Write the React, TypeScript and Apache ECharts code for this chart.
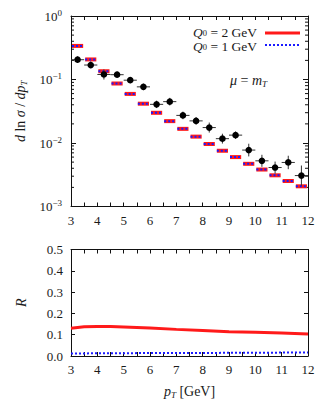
import React, { useEffect, useRef } from "react";
import * as echarts from "echarts";

// bins in p_T [GeV]
const binLo = [3, 3.5, 4, 4.5, 5, 5.5, 6, 6.5, 7, 7.5, 8, 8.5, 9, 9.5, 10, 10.5, 11, 11.5];
const binHi = [3.5, 4, 4.5, 5, 5.5, 6, 6.5, 7, 7.5, 8, 8.5, 9, 9.5, 10, 10.5, 11, 11.5, 12];
const binCenter = [3.25, 3.75, 4.25, 4.75, 5.25, 5.75, 6.25, 6.75, 7.25, 7.75, 8.25, 8.75, 9.25, 9.75, 10.25, 10.75, 11.25, 11.75];

// theory d ln sigma / dpT
const theoryQ2 = [0.338, 0.207, 0.135, 0.0865, 0.0593, 0.0416, 0.0299, 0.0221, 0.0167, 0.0126, 0.00964, 0.00755, 0.0060, 0.0047, 0.00382, 0.0031, 0.00252, 0.00208];
const theoryQ1 = [0.338, 0.207, 0.135, 0.0865, 0.0593, 0.0416, 0.0299, 0.0221, 0.0167, 0.0126, 0.00964, 0.00755, 0.0060, 0.0047, 0.00382, 0.0031, 0.00252, 0.00208];

// measured points
const dataY = [0.205, 0.169, 0.120, 0.119, 0.0975, 0.0766, 0.0406, 0.0448, 0.0272, 0.0223, 0.0175, 0.0117, 0.0133, 0.00774, 0.00524, 0.00411, 0.00494, 0.00307];
const dataLow = [0.182, 0.149, 0.100, 0.107, 0.0874, 0.068, 0.0355, 0.039, 0.0237, 0.0194, 0.0146, 0.0098, 0.0116, 0.00615, 0.00421, 0.0033, 0.00387, 0.00213];
const dataHigh = [0.231, 0.192, 0.144, 0.133, 0.109, 0.086, 0.0464, 0.0514, 0.0312, 0.0256, 0.021, 0.014, 0.0152, 0.00974, 0.00652, 0.0051, 0.0063, 0.00442];

// ratio panel
const ratioX = [3, 3.5, 4, 4.5, 5, 6, 7, 8, 9, 10, 11, 12];
const ratioQ2 = [0.130, 0.137, 0.138, 0.138, 0.136, 0.131, 0.125, 0.120, 0.114, 0.111, 0.108, 0.103];
const ratioQ1 = [0.012, 0.012, 0.013, 0.013, 0.013, 0.014, 0.014, 0.014, 0.015, 0.015, 0.016, 0.016];

// axis ranges
const xMin = 3;
const xMax = 12;
const logMin = 0.001;
const logMax = 1;

const FONT = "Liberation Serif";
const TXT = "#1a1a1a";

const minorLogTicks: number[] = [];
for (let e = -3; e < 0; e++) {
  for (let m = 2; m <= 9; m++) minorLogTicks.push(m * Math.pow(10, e));
}

const richBase = {
  i: { fontStyle: "italic", fontFamily: FONT, fontSize: 14, lineHeight: 16, color: TXT },
  n: { fontFamily: FONT, fontSize: 14, lineHeight: 16, color: TXT },
  sub: { fontStyle: "italic", fontFamily: FONT, fontSize: 9, lineHeight: 9, verticalAlign: "bottom", color: TXT },
  sub0: { fontFamily: FONT, fontSize: 9, lineHeight: 9, verticalAlign: "bottom", color: TXT },
};

const richLegend = {
  i: { fontStyle: "italic", fontFamily: FONT, fontSize: 13.5, lineHeight: 11, color: TXT },
  n: { fontFamily: FONT, fontSize: 13.5, lineHeight: 11, color: TXT },
  sub0: { fontFamily: FONT, fontSize: 8.5, lineHeight: 7, verticalAlign: "bottom", color: TXT },
};

export default function App() {
  const ref = useRef<HTMLDivElement>(null);
  useEffect(() => {
    if (!ref.current) return;
    const chart = echarts.init(ref.current, null, { renderer: "svg" });

    const axisLineStyle = { color: "#111", width: 1 };
    const xBase = (gridIndex: number, position: string, showLabel: boolean, name?: string) => ({
      type: "value",
      gridIndex,
      position,
      min: xMin,
      max: xMax,
      interval: 0.5,
      name: name || "",
      nameLocation: "middle",
      nameGap: 27,
      nameTextStyle: { rich: richBase, fontFamily: FONT, fontSize: 14, color: TXT },
      axisLine: { show: true, onZero: false, lineStyle: axisLineStyle },
      axisTick: { show: true, inside: true, length: 4, lineStyle: axisLineStyle },
      splitLine: { show: false },
      axisLabel: {
        show: showLabel,
        margin: 7,
        fontFamily: FONT,
        fontSize: 13,
        color: TXT,
        showMaxLabel: true,
        formatter: (v: number) => (Math.abs(v - Math.round(v)) < 1e-6 ? String(Math.round(v)) : ""),
      },
    });

    const data = binCenter.map((c, i) => [c, dataY[i], binLo[i], binHi[i], dataLow[i], dataHigh[i]]);
    const thQ2 = binCenter.map((c, i) => [c, theoryQ2[i], binLo[i], binHi[i]]);
    const thQ1 = binCenter.map((c, i) => [c, theoryQ1[i], binLo[i], binHi[i]]);

    const segRender = (color: string, width: number, dash: number[] | null) => (params: any, api: any) => {
      const y = api.value(1);
      const p0 = api.coord([api.value(2), y]);
      const p1 = api.coord([api.value(3), y]);
      return {
        type: "line",
        shape: { x1: p0[0] + 1, y1: p0[1], x2: p1[0] - 1, y2: p1[1] },
        style: { stroke: color, lineWidth: width, lineDash: dash || undefined },
      };
    };

    chart.setOption({
      animation: false,
      backgroundColor: "#ffffff",
      grid: [
        { left: 71, top: 16, width: 237, height: 190.5 },
        { left: 71, top: 249.5, width: 237, height: 107.5 },
      ],
      xAxis: [
        xBase(0, "bottom", true),
        xBase(0, "top", false),
        xBase(1, "bottom", true, "{i|p}{sub|T} [GeV]"),
        xBase(1, "top", false),
      ],
      yAxis: [
        {
          type: "log",
          logBase: 10,
          gridIndex: 0,
          position: "left",
          min: logMin,
          max: logMax,
          name: "{i|d} ln {i|σ} / {i|dp}{sub|T}",
          nameLocation: "middle",
          nameRotate: 90,
          nameGap: 41,
          nameTextStyle: { rich: richBase, fontFamily: FONT, fontSize: 14, color: TXT },
          axisLine: { show: true, onZero: false, lineStyle: axisLineStyle },
          axisTick: { show: true, inside: true, length: 5, lineStyle: axisLineStyle },
          splitLine: { show: false },
          axisLabel: {
            margin: 9,
            fontFamily: FONT,
            fontSize: 13,
            color: TXT,
            rich: {
              n: { fontFamily: FONT, fontSize: 13, lineHeight: 16, color: TXT },
              sup: { fontFamily: FONT, fontSize: 9, lineHeight: 9, verticalAlign: "top", color: TXT },
            },
            formatter: (v: number) => {
              const e = Math.round(Math.log10(v));
              return "{n|10}{sup|" + (e < 0 ? "−" + -e : String(e)) + "}";
            },
          },
        },
        {
          type: "log",
          logBase: 10,
          gridIndex: 0,
          position: "right",
          min: logMin,
          max: logMax,
          axisLine: { show: true, onZero: false, lineStyle: axisLineStyle },
          axisTick: { show: true, inside: true, length: 5, lineStyle: axisLineStyle },
          splitLine: { show: false },
          axisLabel: { show: false },
        },
        {
          type: "value",
          gridIndex: 1,
          position: "left",
          min: 0,
          max: 0.5,
          interval: 0.1,
          name: "{i|R}",
          nameLocation: "middle",
          nameRotate: 90,
          nameGap: 42,
          nameTextStyle: { rich: richBase, fontFamily: FONT, fontSize: 14, color: TXT },
          axisLine: { show: true, onZero: false, lineStyle: axisLineStyle },
          axisTick: { show: true, inside: true, length: 4, lineStyle: axisLineStyle },
          splitLine: { show: false },
          axisLabel: {
            margin: 8,
            fontFamily: FONT,
            fontSize: 13,
            color: TXT,
            formatter: (v: number) => v.toFixed(1),
          },
        },
        {
          type: "value",
          gridIndex: 1,
          position: "right",
          min: 0,
          max: 0.5,
          interval: 0.1,
          axisLine: { show: true, onZero: false, lineStyle: axisLineStyle },
          axisTick: { show: true, inside: true, length: 4, lineStyle: axisLineStyle },
          splitLine: { show: false },
          axisLabel: { show: false },
        },
      ],
      series: [
        {
          type: "custom",
          name: "minorTicks",
          xAxisIndex: 0,
          yAxisIndex: 0,
          silent: true,
          data: minorLogTicks.map((v) => [xMin, v]),
          renderItem: (params: any, api: any) => {
            const v = api.value(1);
            const pl = api.coord([xMin, v]);
            const pr = api.coord([xMax, v]);
            return {
              type: "group",
              children: [
                { type: "line", shape: { x1: pl[0], y1: pl[1], x2: pl[0] + 3, y2: pl[1] }, style: { stroke: "#111", lineWidth: 1 } },
                { type: "line", shape: { x1: pr[0] - 3, y1: pr[1], x2: pr[0], y2: pr[1] }, style: { stroke: "#111", lineWidth: 1 } },
              ],
            };
          },
        },
        {
          type: "custom",
          name: "Q0 = 2 GeV",
          xAxisIndex: 0,
          yAxisIndex: 0,
          data: thQ2,
          renderItem: segRender("#ff1a1a", 4, null),
        },
        {
          type: "custom",
          name: "Q0 = 1 GeV",
          xAxisIndex: 0,
          yAxisIndex: 0,
          data: thQ1,
          renderItem: segRender("#1a1aff", 2, [2, 2]),
        },
        {
          type: "custom",
          name: "data",
          xAxisIndex: 0,
          yAxisIndex: 0,
          data,
          renderItem: (params: any, api: any) => {
            const c = api.coord([api.value(0), api.value(1)]);
            const l = api.coord([api.value(2), api.value(1)]);
            const r = api.coord([api.value(3), api.value(1)]);
            const lo = api.coord([api.value(0), api.value(4)]);
            const hi = api.coord([api.value(0), api.value(5)]);
            return {
              type: "group",
              children: [
                { type: "line", shape: { x1: l[0], y1: l[1], x2: r[0], y2: r[1] }, style: { stroke: "#333", lineWidth: 1 } },
                { type: "line", shape: { x1: lo[0], y1: lo[1], x2: hi[0], y2: hi[1] }, style: { stroke: "#333", lineWidth: 1 } },
                { type: "circle", shape: { cx: c[0], cy: c[1], r: 3.3 }, style: { fill: "#000" } },
              ],
            };
          },
        },
        {
          type: "line",
          xAxisIndex: 2,
          yAxisIndex: 2,
          data: ratioX.map((x, i) => [x, ratioQ2[i]]),
          showSymbol: false,
          lineStyle: { color: "#ff1a1a", width: 3 },
        },
        {
          type: "line",
          xAxisIndex: 2,
          yAxisIndex: 2,
          data: ratioX.map((x, i) => [x, ratioQ1[i]]),
          showSymbol: false,
          lineStyle: { color: "#1a1aff", width: 2, type: [2, 2] },
        },
      ],
      graphic: [
        {
          type: "text",
          x: 257,
          y: 32,
          style: { text: "{i|Q}{sub0|0}{n| = 2 GeV}", rich: richLegend, align: "right", verticalAlign: "middle", fill: TXT },
        },
        {
          type: "text",
          x: 257,
          y: 46,
          style: { text: "{i|Q}{sub0|0}{n| = 1 GeV}", rich: richLegend, align: "right", verticalAlign: "middle", fill: TXT },
        },
        { type: "line", shape: { x1: 265, y1: 33, x2: 300, y2: 33 }, style: { stroke: "#ff1a1a", lineWidth: 3 } },
        { type: "line", shape: { x1: 265, y1: 45, x2: 300, y2: 45 }, style: { stroke: "#1a1aff", lineWidth: 2, lineDash: [2, 2] } },
        {
          type: "text",
          left: 230,
          top: 73,
          style: { text: "{i|μ} = {i|m}{sub|T}", rich: richBase, fontFamily: FONT, fontSize: 14, fill: TXT },
        },
      ],
    });
    return () => chart.dispose();
  }, []);
  return <div ref={ref} style={{ width: 332, height: 400, position: "absolute", left: 0, top: 0 }} />;
}
